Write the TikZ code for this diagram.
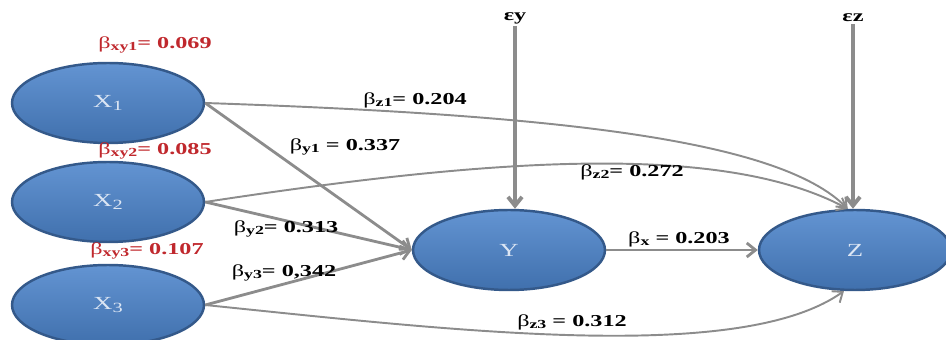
\documentclass[tikz,border=0pt]{standalone}
\usepackage{fontspec}
\setmainfont{Liberation Serif}
\newfontfamily\widefont[FakeStretch=1.45]{Liberation Serif}
\usetikzlibrary{arrows.meta,shapes.geometric}
\definecolor{nodetop}{HTML}{6394D2}
\definecolor{nodebot}{HTML}{4070AD}
\definecolor{nodeedge}{HTML}{34598A}
\definecolor{nodetxt}{HTML}{DCE6F4}
\definecolor{lnc}{HTML}{8C8C8C}
\definecolor{coefred}{HTML}{C0282D}
\newcommand{\coef}[2]{β\raisebox{-0.35ex}{\fontsize{7}{8}\selectfont\bfseries #1}\textbf{#2}}
\newcommand{\sub}[2]{#1\raisebox{-0.45ex}{\fontsize{8}{9}\selectfont #2}}
\tikzset{
  latent/.style={ellipse,draw=nodeedge,line width=1.4pt,top color=nodetop,bottom color=nodebot,
    minimum width=3.84cm,minimum height=1.6cm,inner sep=0pt,text=nodetxt,font=\widefont\fontsize{10.5}{12}\selectfont},
  lbl/.style={font=\widefont\fontsize{9.5}{11}\selectfont,inner sep=1pt},
  rlbl/.style={lbl,text=coefred},
  ar/.style={-{Straight Barb[length=5pt,width=8pt]},draw=lnc,line width=1.6pt},
  car/.style={ar,line width=1.1pt},
  ear/.style={ar,line width=2.2pt},
}
\begin{document}
\begin{tikzpicture}[x=0.02cm,y=-0.02cm]
\useasboundingbox (0,0) rectangle (946,340);
% latent variables
\node[latent] (x1) at (108,103) {\sub{X}{1}};
\node[latent] (x2) at (108,202) {\sub{X}{2}};
\node[latent] (x3) at (108,305) {\sub{X}{3}};
\node[latent] (y) at (509,250) {Y};
\node[latent] (z) at (855,250) {Z};
% error terms
\node[lbl] (ey) at (515,18) {\textbf{εy}};
\node[lbl] (ez) at (853,18) {\textbf{εz}};
% paths
\draw[ear] (ey) -- (ey |- y.north);
\draw[ear] (ez) -- (ez |- z.north);
\draw[ar] (x1.east) -- (y.west);
\draw[ar] (x2.east) -- (y.west);
\draw[ar] (x3.east) -- (y.west);
\draw[ar] (y.east) -- (z.west);
\draw[car] (x1.east) .. controls (560,115) and (780,140) .. (z.100);
\draw[car] (x2.east) .. controls (480,160) and (720,140) .. (z.100);
\draw[car] (x3.east) .. controls (450,330) and (740,365) .. (z.255);
% coefficients
\node[rlbl] (cxy1) at (155,45) {\coef{xy1}{= 0.069}};
\node[rlbl] (cxy2) at (155,151) {\coef{xy2}{= 0.085}};
\node[rlbl] (cxy3) at (147,251) {\coef{xy3}{= 0.107}};
\node[lbl] (cz1) at (415,100) {\coef{z1}{= 0.204}};
\node[lbl] (cy1) at (345,147) {\coef{y1}{ = 0.337}};
\node[lbl] (cz2) at (632,172) {\coef{z2}{= 0.272}};
\node[lbl] (cy2) at (286,229) {\coef{y2}{= 0.313}};
\node[lbl] (cy3) at (284,273) {\coef{y3}{= 0,342}};
\node[lbl] (cx) at (679,239) {\coef{x}{ = 0.203}};
\node[lbl] (cz3) at (572,322) {\coef{z3}{ = 0.312}};
\end{tikzpicture}
\end{document}
